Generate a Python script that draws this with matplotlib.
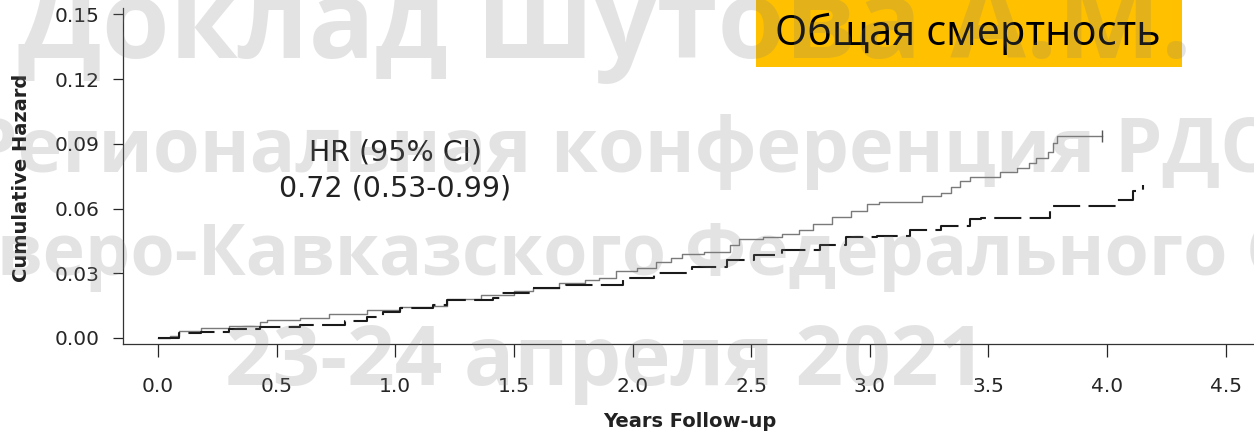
import numpy as np
import matplotlib.pyplot as plt
from matplotlib.patches import Rectangle

# Cumulative hazard step points (years, hazard)
placebo_t = [0, 0.05, 0.09, 0.18, 0.30, 0.43, 0.46, 0.60, 0.72, 0.88, 1.02, 1.16,
             1.22, 1.36, 1.50, 1.58, 1.69, 1.80, 1.86, 1.93, 2.02, 2.10, 2.16, 2.21,
             2.30, 2.41, 2.45, 2.55, 2.63, 2.70, 2.76, 2.84, 2.92, 2.99, 3.04, 3.22,
             3.30, 3.34, 3.38, 3.42, 3.55, 3.62, 3.67, 3.70, 3.75, 3.77, 3.79]
placebo_h = [0, 0.001, 0.003, 0.0046, 0.0056, 0.0074, 0.0084, 0.0093, 0.011, 0.013,
             0.0144, 0.0148, 0.018, 0.020, 0.022, 0.023, 0.0255, 0.027, 0.028, 0.031,
             0.0325, 0.035, 0.037, 0.039, 0.040, 0.043, 0.046, 0.047, 0.048, 0.050,
             0.053, 0.056, 0.059, 0.062, 0.063, 0.0658, 0.067, 0.070, 0.073, 0.0747,
             0.077, 0.079, 0.081, 0.0835, 0.086, 0.0905, 0.0937]
placebo_end = 3.98

treated_t = [0, 0.09, 0.18, 0.30, 0.43, 0.60, 0.79, 0.88, 0.95, 1.02, 1.16, 1.22,
             1.41, 1.44, 1.58, 1.72, 1.96, 2.09, 2.25, 2.40, 2.51, 2.63, 2.79, 2.90,
             3.03, 3.17, 3.30, 3.42, 3.47, 3.76, 4.04, 4.11, 4.15]
treated_h = [0, 0.0023, 0.0028, 0.0042, 0.0051, 0.006, 0.0079, 0.0097, 0.012, 0.014,
             0.0153, 0.0176, 0.0186, 0.021, 0.023, 0.0246, 0.028, 0.030, 0.033, 0.036,
             0.0385, 0.041, 0.043, 0.047, 0.0473, 0.050, 0.052, 0.055, 0.0557, 0.061,
             0.064, 0.068, 0.071]

x_ticks = np.arange(0, 4.51, 0.5)
y_ticks = np.arange(0, 0.151, 0.03)

hr_text = ["HR (95% CI)", "0.72 (0.53-0.99)"]
title = "Общая смертность"
watermark = ["Доклад Шутова А.М.",
             "Региональная конференция РДО",
             "Северо-Кавказского Федерального Округа",
             "23-24 апреля 2021"]

W, H = 1254, 436
fig = plt.figure(figsize=(W / 100, H / 100), dpi=100)
ax = fig.add_axes([123 / W, 92 / H, 1 - 123 / W, (H - 8 - 92) / H])

# survival-style step curves
t = np.append(placebo_t, placebo_end)
h = np.append(placebo_h, placebo_h[-1])
ax.plot(t, h, drawstyle='steps-post', color='#7a7a7a', lw=1.0)
ax.plot(t[-1], h[-1], marker='|', color='#555555', ms=8, mew=1.0)
ax.plot(treated_t, treated_h, drawstyle='steps-post', color='#1a1a1a', lw=1.5,
        dashes=(13, 4))

ax.set_xlim(-0.1475, 4.619)
ax.set_ylim(-0.0028, 0.153)
ax.set_xticks(x_ticks)
ax.set_xticklabels([f"{v:.1f}" for v in x_ticks])
ax.set_yticks(y_ticks)
ax.set_yticklabels([f"{v:.2f}" for v in y_ticks])
for s in ['top', 'right']:
    ax.spines[s].set_visible(False)
for s in ['left', 'bottom']:
    ax.spines[s].set_linewidth(0.9)
    ax.spines[s].set_color('#333333')
ax.tick_params(axis='x', length=9.4, width=0.9, pad=14, labelsize=14.5,
               colors='#262626')
ax.tick_params(axis='y', length=7.2, width=0.9, pad=9.4, labelsize=14.5,
               colors='#262626')

ax.text(1.0, 0.0858, hr_text[0], ha='center', va='center', fontsize=20.5,
        color='#222222')
ax.text(1.0, 0.0693, hr_text[1], ha='center', va='center', fontsize=20.5,
        color='#222222')

fig.text(22 / W, 1 - 178 / H, "Cumulative Hazard", rotation=90, ha='center',
         va='center', fontsize=14, fontweight='bold', color='#222222')
fig.text(690 / W, 1 - 421 / H, "Years Follow-up", ha='center', va='center',
         fontsize=14, fontweight='bold', color='#222222')

# slide title box
fig.patches.append(Rectangle((756 / W, 1 - 67 / H), 426 / W, 67 / H,
                             transform=fig.transFigure, facecolor='#FFC000',
                             edgecolor='none', zorder=5))
fig.text(968 / W, 1 - 45 / H, title, ha='center', va='baseline',
         fontsize=30, family='Open Sans', color='black', zorder=6)

# semi-transparent overlay text
wm_pos = [(605, 58, 79), (625, 172, 54.5), (710, 275, 51.5), (605, 385, 60)]
for txt, (cx, base, size) in zip(watermark, wm_pos):
    fig.text(cx / W, 1 - base / H, txt, ha='center', va='baseline',
             fontsize=size, family='Open Sans', fontweight='bold',
             color='#7f7f7f', alpha=0.21, zorder=10)

fig.savefig('out.png', dpi=100)
